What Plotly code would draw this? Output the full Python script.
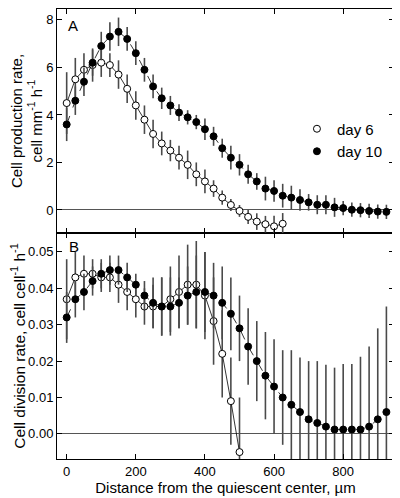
import plotly.graph_objects as go

# distance (µm)
dist10 = [i * 25 for i in range(38)]
dist6 = [i * 25 for i in range(26)]
dist6b = [i * 25 for i in range(21)]

# Panel A: cell production rate (cell mm-1 h-1)
prod6 = [4.5, 5.5, 5.9, 6.1, 6.2, 6.1, 5.7, 5.1, 4.4, 3.8, 3.2, 2.8, 2.5, 2.2, 1.9, 1.5,
         1.2, 0.9, 0.52, 0.21, -0.04, -0.29, -0.49, -0.6, -0.69, -0.58]
prod6_err = [1.3, 0.9, 0.7, 0.7, 0.6, 0.5, 0.6, 0.6, 0.6, 0.6, 0.6, 0.5, 0.45, 0.5, 0.6, 0.5,
             0.5, 0.35, 0.3, 0.25, 0.25, 0.3, 0.35, 0.35, 0.45, 0.45]
prod10 = [3.6, 4.6, 5.4, 6.2, 6.9, 7.3, 7.5, 7.2, 6.6, 5.9, 5.2, 4.7, 4.4, 4.1, 3.9, 3.7,
          3.4, 3.1, 2.6, 2.2, 1.9, 1.5, 1.2, 0.9, 0.8, 0.6, 0.52, 0.42, 0.32, 0.22, 0.22,
          0.11, 0.08, 0.01, -0.01, -0.04, -0.07, -0.08]
prod10_err = [0.7, 0.6, 0.6, 0.55, 0.6, 0.6, 0.6, 0.5, 0.5, 0.5, 0.5, 0.45, 0.4, 0.35, 0.3, 0.3,
              0.45, 0.4, 0.4, 0.5, 0.45, 0.4, 0.35, 0.5, 0.45, 0.5, 0.5, 0.45, 0.35, 0.4, 0.4,
              0.4, 0.3, 0.3, 0.3, 0.3, 0.3, 0.3]

# Panel B: cell division rate (cell cell-1 h-1)
div6 = [0.037, 0.043, 0.044, 0.044, 0.043, 0.043, 0.041, 0.039, 0.037, 0.035, 0.035, 0.035,
        0.037, 0.039, 0.041, 0.041, 0.038, 0.031, 0.022, 0.009, -0.005]
div6_err = [0.011, 0.007, 0.005, 0.004, 0.004, 0.004, 0.005, 0.005, 0.005, 0.005, 0.006, 0.008,
            0.009, 0.010, 0.011, 0.012, 0.012, 0.012, 0.012, 0.012, 0.015]
div10 = [0.032, 0.037, 0.039, 0.042, 0.044, 0.045, 0.045, 0.043, 0.041, 0.038, 0.036, 0.035,
         0.035, 0.036, 0.038, 0.039, 0.039, 0.038, 0.036, 0.033, 0.029, 0.024, 0.020, 0.016,
         0.013, 0.010, 0.008, 0.006, 0.004, 0.003, 0.002, 0.0012, 0.0012, 0.0012, 0.0012,
         0.002, 0.004, 0.006]
div10_err = [0.007, 0.005, 0.005, 0.004, 0.004, 0.004, 0.004, 0.004, 0.003, 0.004, 0.007, 0.008,
             0.008, 0.007, 0.008, 0.010, 0.011, 0.009, 0.010, 0.010, 0.009, 0.0105, 0.011, 0.012,
             0.013, 0.013, 0.015, 0.015, 0.016, 0.017, 0.017, 0.017, 0.018, 0.018, 0.020, 0.022,
             0.025, 0.029]

xticks = [0, 200, 400, 600, 800]
ticksA = [0, 2, 4, 6, 8]
ticksB = [0.00, 0.01, 0.02, 0.03, 0.04, 0.05]

FONT = "Liberation Sans, Arial, sans-serif"
errc = "#4a4a4a"

def err(arr):
    return dict(type="data", array=arr, color=errc, thickness=1.6, width=0)

open_marker = dict(symbol="circle", size=7, color="white", line=dict(color="black", width=1))
fill_marker = dict(symbol="circle", size=7, color="black", line=dict(color="black", width=1))

fig = go.Figure()
# Panel A (top)
fig.add_trace(go.Scatter(x=dist6, y=prod6, error_y=err(prod6_err), mode="lines+markers",
                         marker=open_marker, line=dict(color="black", width=0.8),
                         xaxis="x2", yaxis="y2", showlegend=False))
fig.add_trace(go.Scatter(x=dist10, y=prod10, error_y=err(prod10_err), mode="lines+markers",
                         marker=fill_marker, line=dict(color="black", width=0.8, dash="dash"),
                         xaxis="x2", yaxis="y2", showlegend=False))
# Panel B (bottom)
fig.add_trace(go.Scatter(x=dist6b, y=div6, error_y=err(div6_err), mode="lines+markers",
                         marker=open_marker, line=dict(color="black", width=0.8),
                         xaxis="x", yaxis="y", showlegend=False))
fig.add_trace(go.Scatter(x=dist10, y=div10, error_y=err(div10_err), mode="lines+markers",
                         marker=fill_marker, line=dict(color="black", width=0.8, dash="dash"),
                         xaxis="x", yaxis="y", showlegend=False))
# legend entries
fig.add_trace(go.Scatter(x=[None], y=[None], mode="markers", marker=open_marker, name="day 6",
                         xaxis="x2", yaxis="y2"))
fig.add_trace(go.Scatter(x=[None], y=[None], mode="markers", marker=fill_marker, name="day 10",
                         xaxis="x2", yaxis="y2"))

split = 226 / 450
common_x = dict(range=[-28, 947], tickvals=xticks, ticks="inside", ticklen=5, tickcolor="black",
                showline=True, linecolor="black", linewidth=1, mirror="ticks",
                showgrid=False, zeroline=False, tickfont=dict(size=13))
common_y = dict(ticks="inside", ticklen=5, tickcolor="black", showline=True, linecolor="black",
                linewidth=1, mirror="ticks", showgrid=False, zeroline=True,
                zerolinecolor="#555555", zerolinewidth=1, tickfont=dict(size=13))

fig.update_layout(
    width=392, height=490,
    margin=dict(l=49, r=6, t=1, b=39, autoexpand=False),
    paper_bgcolor="white", plot_bgcolor="white",
    font=dict(family=FONT, size=13, color="black"),
    xaxis=dict(**common_x, domain=[0, 1], anchor="y",
               title=dict(text="Distance from the quiescent center, µm", font=dict(size=15), standoff=2)),
    yaxis=dict(**common_y, domain=[0, split], anchor="x", range=[-0.0069, 0.0552],
               tickvals=ticksB, tickformat=".2f",
               title=dict(text="Cell division rate, cell cell<sup>-1</sup> h<sup>-1</sup>",
                          font=dict(size=15.5), standoff=5)),
    xaxis2=dict(**common_x, domain=[0, 1], anchor="y2", showticklabels=False, matches="x"),
    yaxis2=dict(**common_y, domain=[split, 1], anchor="x2", range=[-0.97, 8.46],
                tickvals=ticksA,
                title=dict(text="Cell production rate,<br>cell mm<sup>-1</sup> h<sup>-1</sup>",
                           font=dict(size=15), standoff=10)),
    legend=dict(x=0.712, y=0.77, xanchor="left", yanchor="top", bgcolor="rgba(0,0,0,0)",
                font=dict(size=15), itemwidth=30, tracegroupgap=0),
    annotations=[
        dict(text="A", xref="x2 domain", yref="y2 domain", x=0.028, y=0.975,
             xanchor="left", yanchor="top", showarrow=False, font=dict(size=15)),
        dict(text="B", xref="x domain", yref="y domain", x=0.03, y=0.985,
             xanchor="left", yanchor="top", showarrow=False, font=dict(size=15)),
    ],
)

fig.write_html("out.html")
